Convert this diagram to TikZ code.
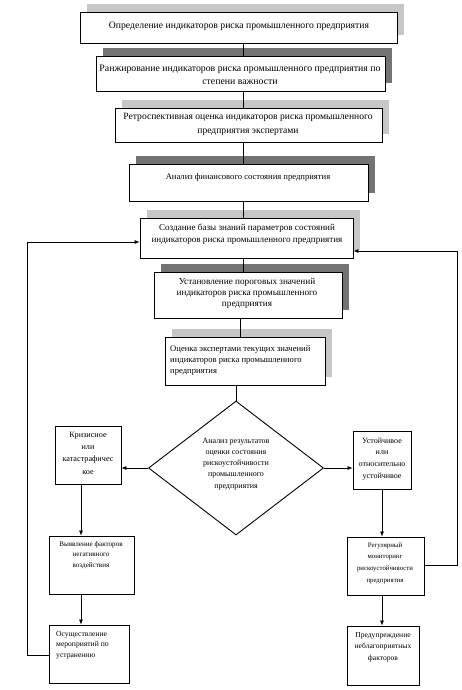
\documentclass[tikz,border=0pt]{standalone}
\usepackage{fontspec}
\setmainfont{Liberation Serif}
\usetikzlibrary{shapes.geometric,arrows.meta,fit}
\tikzset{
  boxr/.style={draw=black, line width=0.9pt, fill=white, inner sep=0pt},
  shl/.style={fill=black!22},
  shd/.style={fill=black!55},
  txt/.style={inner sep=0pt, align=center},
  txtl/.style={inner sep=0pt, align=left},
  conn/.style={line width=0.6pt},
  arr/.style={line width=0.6pt, -{Latex[length=5pt,width=4pt]}},
}
\newcommand{\fs}[2]{\fontsize{#1}{#2}\selectfont}
\begin{document}
\begin{tikzpicture}[x=1pt,y=-1pt]
\useasboundingbox (0,0) rectangle (461,690);
% shadows
\fill[shl] (87,4) rectangle (404,35);
\fill[shd] (103,48) rectangle (392,83);
\fill[shl] (122,100) rectangle (389,134);
\fill[shd] (136,156) rectangle (375,193);
\fill[shl] (147,210) rectangle (360,250);
\fill[shd] (161,264) rectangle (349,310);
\fill[shl] (172,329) rectangle (332,377);
% boxes
\node[boxr, fit={(80,12)(397,43)}] (b1) {};
\node[boxr, fit={(96,56)(385,91)}] (b2) {};
\node[boxr, fit={(115,108)(382,142)}] (b3) {};
\node[boxr, fit={(129,164)(368,201)}] (b4) {};
\node[boxr, fit={(140,218)(353,258)}] (b5) {};
\node[boxr, fit={(154,272)(342,318)}] (b6) {};
\node[boxr, fit={(165,337)(325,385)}] (b7) {};
\node[draw=black, line width=0.9pt, shape=diamond, inner sep=0pt, minimum width=175pt, minimum height=134pt] (dia) at (236,468) {};
\node[boxr, fit={(55,426)(121,484)}] (l1) {};
\node[boxr, fit={(353,431)(411,489)}] (r1) {};
\node[boxr, fit={(49,536)(134,594)}] (l2) {};
\node[boxr, fit={(49,625)(129,683)}] (l3) {};
\node[boxr, fit={(347,537)(424,595)}] (r2) {};
\node[boxr, fit={(347,626)(419,685)}] (r3) {};
% texts
\node[txt, font={\fs{9.7}{12}}] (t1) at (239,26) {Определение индикаторов риска промышленного предприятия};
\node[txt, font={\fs{9.8}{13}}] (t2) at (240,75) {Ранжирование индикаторов риска промышленного предприятия по\\степени важности};
\node[txt, font={\fs{9.6}{14}}] (t3) at (248,124) {Ретроспективная оценка индикаторов риска промышленного\\предприятия экспертами};
\node[txt, font={\fs{8.6}{11}}] (t4) at (248,177) {Анализ финансового состояния предприятия};
\node[txt, font={\fs{9.1}{12}}] (t5) at (247,234) {Создание базы знаний параметров состояний\\индикаторов риска промышленного предприятия};
\node[txt, font={\fs{9.2}{11}}] (t6) at (247,293) {Установление пороговых значений\\индикаторов риска промышленного\\предприятия};
\node[txtl, anchor=west, font={\fs{8.6}{11}}] (t7) at (170,360) {Оценка экспертами текущих значений\\индикаторов риска промышленного\\предприятия};
\node[txt, font={\fs{8}{11.2}}] (td) at (236,464) {Анализ результатов\\оценки состояния\\рискоустойчивости\\промышленного\\предприятия};
\node[txt, font={\fs{8.2}{12.3}}] (tl1) at (88,453) {Кризисное\\или\\катастрафичес\\кое};
\node[txt, font={\fs{8}{11.8}}] (tr1) at (382,459) {Устойчивое\\или\\относительно\\устойчивое};
\node[txt, anchor=north, font={\fs{7.1}{10.5}}] (tl2) at (91,541) {Выявление факторов\\негативного\\воздействия};
\node[txtl, anchor=north west, font={\fs{7.6}{10.5}}] (tl3) at (56,631) {Осуществление\\мероприятий по\\устранению};
\node[txt, font={\fs{6.8}{11.7}}] (tr2) at (385,563) {Регулярный\\мониторинг\\рискоустойчивости\\предприятия};
\node[txt, anchor=north, font={\fs{7.6}{11.5}}] (tr3) at (383,632) {Предупреждение\\неблагоприятных\\факторов};
% connectors
\coordinate (cx) at (243,0);
\coordinate (cy) at (240,0);
\draw[conn] (b1.south -| cx) -- (b2.north -| cx);
\draw[conn] (b2.south -| cx) -- (b3.north -| cx);
\draw[conn] (b3.south -| cx) -- (b4.north -| cx);
\draw[conn] (b4.south -| cx) -- (b5.north -| cx);
\draw[conn] (b5.south -| cx) -- (b6.north -| cx);
\draw[conn] (b6.south -| cy) -- (b7.north -| cy);
\draw[conn] (b7.south -| dia.north) -- (dia.north);
\draw[arr] (dia.west) -- (dia.west -| l1.east);
\draw[arr] (dia.east) -- (dia.east -| r1.west);
\coordinate (lx) at (81,0);
\coordinate (rx) at (382,0);
\draw[arr] (l1.south -| lx) -- (l2.north -| lx);
\draw[arr] (l2.south -| lx) -- (l3.north -| lx);
\draw[arr] (r1.south -| rx) -- (r2.north -| rx);
\draw[arr] (r2.south -| rx) -- (r3.north -| rx);
\coordinate (fl) at (27,655);
\coordinate (fr) at (457,565);
\coordinate (ylb) at (0,242);
\coordinate (yrb) at (0,251);
\draw[arr] (l3.west |- fl) -- (fl) -- (fl |- ylb) -- (b5.west |- ylb);
\draw[arr] (r2.east |- fr) -- (fr) -- (fr |- yrb) -- (b5.east |- yrb);
\end{tikzpicture}
\end{document}
